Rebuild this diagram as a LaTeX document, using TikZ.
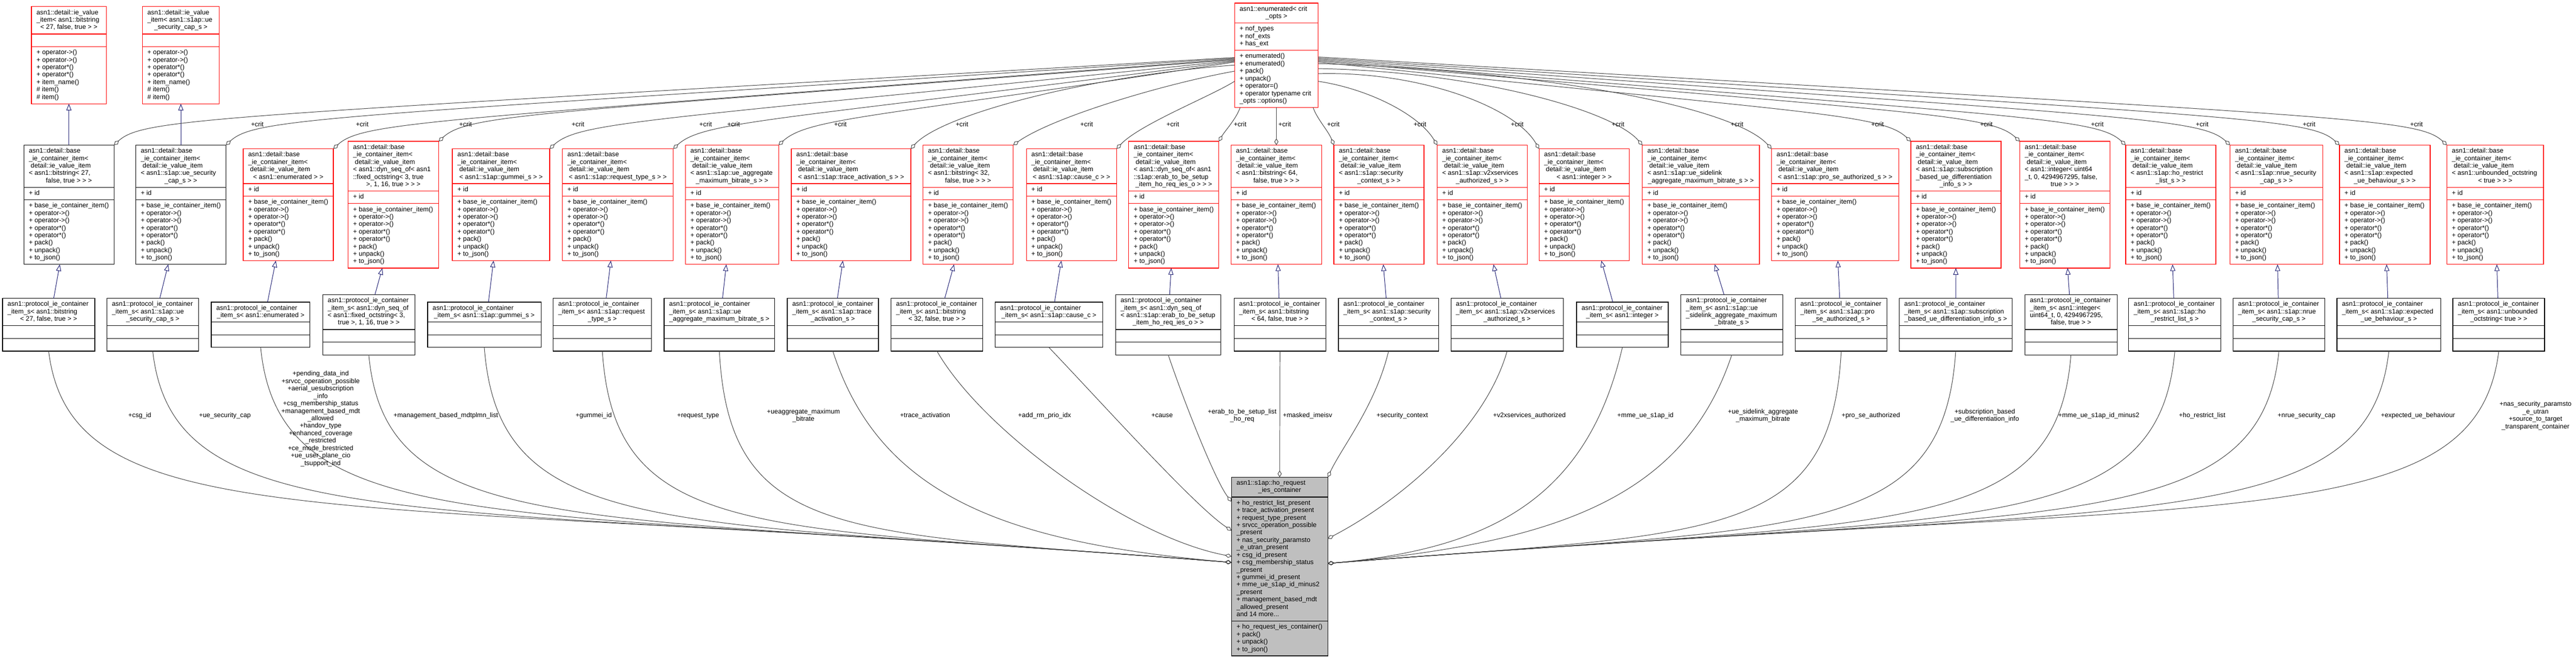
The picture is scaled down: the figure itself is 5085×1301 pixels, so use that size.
\documentclass[tikz,border=0pt]{standalone}
\usepackage{fontspec}
\setmainfont{Liberation Sans}
\usetikzlibrary{arrows.meta,calc}
\definecolor{midblue}{HTML}{191970}
\definecolor{edgegray}{HTML}{404040}
\definecolor{boxred}{HTML}{FF0000}
\definecolor{mainfill}{HTML}{BFBFBF}
\newcommand\Ln[1]{\hbox{\vrule height 10.5pt depth 4.17pt width 0pt\relax #1}}
\newcommand\Lc[1]{\hbox to\hsize{\vrule height 10.5pt depth 4.17pt width 0pt\hfil #1\hfil}}
\newcommand\Sec[2]{\hbox to #1{\vtop{\hsize=#1\relax #2}\hss}}
\newcommand\Bhd{\Ln{asn1::detail::base}\Ln{\_ie\_container\_item<}\Ln{\kern3.7pt detail::ie\_value\_item}}
\newcommand\Bmeth{\Ln{+ base\_ie\_container\_item()}\Ln{+ operator->()}\Ln{+ operator->()}\Ln{+ operator*()}\Ln{+ operator*()}\Ln{+ pack()}\Ln{+ unpack()}\Ln{+ to\_json()}}
\newcommand\Ameth{\Ln{+ operator->()}\Ln{+ operator->()}\Ln{+ operator*()}\Ln{+ operator*()}\Ln{+ item\_name()}\Ln{\# item()}\Ln{\# item()}}
\tikzset{
  sec/.style={draw, line width=1.3pt, inner xsep=10pt, inner ysep=5pt, outer sep=0pt, anchor=north west, font=\fontsize{13}{14.67}\selectfont, fill=white},
  redbox/.style={sec, draw=boxred},
  blkbox/.style={sec, draw=black},
  inh/.style={draw=midblue, line width=1pt, -{Triangle[open,length=13pt,width=10pt]}},
  agg/.style={draw=edgegray, line width=1pt, -{Diamond[open,length=13pt,width=8pt]}},
  lbl/.style={font=\fontsize{13}{14.67}\selectfont, inner sep=0pt, align=center},
}
\newcommand\Bbox[6]{%
  \pgfmathsetmacro\bt{404-(14.67*#4+162.4)/2}%
  \pgfmathsetmacro\tw{#3-20}%
  \node[#5] (#1) at (#2,\bt) {\Sec{\tw pt}{\Bhd#6}};
  \node[#5] (#1-a) at (#1.south west) {\Sec{\tw pt}{\Ln{+ id}}};
  \node[#5] (#1-m) at (#1-a.south west) {\Sec{\tw pt}{\Bmeth}};
}
\newcommand\Cbox[5]{%
  \pgfmathsetmacro\ct{640.5-(14.67*#4+60)/2}%
  \pgfmathsetmacro\tw{#3-20}%
  \node[blkbox] (#1) at (#2,\ct) {\Sec{\tw pt}{\Ln{asn1::protocol\_ie\_container}#5}};
  \node[blkbox, minimum width=#3, minimum height=25] (#1-a) at (#1.south west) {};
  \node[blkbox, minimum width=#3, minimum height=25] (#1-m) at (#1-a.south west) {};
}
\begin{document}
\begin{tikzpicture}[x=1pt,y=-1pt]
\fill[white] (0,0) rectangle (5085,1301);
\useasboundingbox (0,0) rectangle (5085,1301);

% ---- top row
\node[redbox] (a1) at (62,13) {\Sec{128pt}{\Ln{asn1::detail::ie\_value}\Ln{\_item< asn1::bitstring}\Lc{< 27, false, true > >}}};
\node[redbox, minimum width=148, minimum height=25] (a1-a) at (a1.south west) {};
\node[redbox] (a1-m) at (a1-a.south west) {\Sec{128pt}{\Ameth}};
\node[redbox] (a2) at (281,13) {\Sec{132pt}{\Ln{asn1::detail::ie\_value}\Ln{\_item< asn1::s1ap::ue}\Lc{\_security\_cap\_s >}}};
\node[redbox, minimum width=152, minimum height=25] (a2-a) at (a2.south west) {};
\node[redbox] (a2-m) at (a2-a.south west) {\Sec{132pt}{\Ameth}};

\node[redbox] (E) at (2437,6) {\Sec{145pt}{\Ln{asn1::enumerated< crit}\Lc{\_opts >}}};
\node[redbox] (E-a) at (E.south west) {\Sec{145pt}{\Ln{+ nof\_types}\Ln{+ nof\_exts}\Ln{+ has\_ext}}};
\node[redbox] (E-m) at (E-a.south west) {\Sec{145pt}{\Ln{+ enumerated()}\Ln{+ enumerated()}\Ln{+ pack()}\Ln{+ unpack()}\Ln{+ operator=()}\Ln{+ operator typename crit}\Ln{\_opts ::options()}}};

% ---- base_ie_container_item row
\Bbox{b1}{47}{178}{5}{blkbox}{\Ln{< asn1::bitstring< 27,}\Lc{false, true > > >}}
\Bbox{b2}{268}{178}{5}{blkbox}{\Ln{< asn1::s1ap::ue\_security}\Lc{\_cap\_s > >}}
\Bbox{b3}{480}{178}{4}{redbox}{\Lc{< asn1::enumerated > >}}
\Bbox{b4}{687}{179}{6}{redbox}{\Ln{< asn1::dyn\_seq\_of< asn1}\Ln{::fixed\_octstring< 3, true}\Lc{>, 1, 16, true > > >}}
\Bbox{b5}{893}{192}{4}{redbox}{\Lc{< asn1::s1ap::gummei\_s > >}}
\Bbox{b6}{1110}{219}{4}{redbox}{\Lc{< asn1::s1ap::request\_type\_s > >}}
\Bbox{b7}{1353}{184}{5}{redbox}{\Ln{< asn1::s1ap::ue\_aggregate}\Lc{\_maximum\_bitrate\_s > >}}
\Bbox{b8}{1562}{236}{4}{redbox}{\Lc{< asn1::s1ap::trace\_activation\_s > >}}
\Bbox{b9}{1822}{178}{5}{redbox}{\Ln{< asn1::bitstring< 32,}\Lc{false, true > > >}}
\Bbox{b10}{2026}{178}{4}{redbox}{\Lc{< asn1::s1ap::cause\_c > >}}
\Bbox{b11}{2228}{178}{6}{redbox}{\Ln{< asn1::dyn\_seq\_of< asn1}\Ln{::s1ap::erab\_to\_be\_setup}\Lc{\_item\_ho\_req\_ies\_o > > >}}
\Bbox{b12}{2430}{179}{5}{redbox}{\Ln{< asn1::bitstring< 64,}\Lc{false, true > > >}}
\Bbox{b13}{2633}{178}{5}{redbox}{\Ln{< asn1::s1ap::security}\Lc{\_context\_s > >}}
\Bbox{b14}{2837}{178}{5}{redbox}{\Ln{< asn1::s1ap::v2xservices}\Lc{\_authorized\_s > >}}
\Bbox{b15}{3038}{178}{4}{redbox}{\Lc{< asn1::integer > >}}
\Bbox{b16}{3242}{231}{5}{redbox}{\Ln{< asn1::s1ap::ue\_sidelink}\Lc{\_aggregate\_maximum\_bitrate\_s > >}}
\Bbox{b17}{3497}{251}{4}{redbox}{\Lc{< asn1::s1ap::pro\_se\_authorized\_s > >}}
\Bbox{b18}{3772}{178}{6}{redbox}{\Ln{< asn1::s1ap::subscription}\Ln{\_based\_ue\_differentiation}\Lc{\_info\_s > >}}
\Bbox{b19}{3987}{178}{6}{redbox}{\Ln{< asn1::integer< uint64}\Ln{\_t, 0, 4294967295, false,}\Lc{true > > >}}
\Bbox{b20}{4196}{178}{5}{redbox}{\Ln{< asn1::s1ap::ho\_restrict}\Lc{\_list\_s > >}}
\Bbox{b21}{4402}{183}{5}{redbox}{\Ln{< asn1::s1ap::nrue\_security}\Lc{\_cap\_s > >}}
\Bbox{b22}{4618}{179}{5}{redbox}{\Ln{< asn1::s1ap::expected}\Lc{\_ue\_behaviour\_s > >}}
\Bbox{b23}{4830}{191}{5}{redbox}{\Ln{< asn1::unbounded\_octstring}\Lc{< true > > >}}

% ---- protocol_ie_container_item_s row
\Cbox{c1}{5}{182}{3}{\Ln{\_item\_s< asn1::bitstring}\Lc{< 27, false, true > >}}
\Cbox{c2}{211}{181}{3}{\Ln{\_item\_s< asn1::s1ap::ue}\Lc{\_security\_cap\_s >}}
\Cbox{c3}{417}{195}{2}{\Lc{\_item\_s< asn1::enumerated >}}
\Cbox{c4}{637}{182}{4}{\Ln{\_item\_s< asn1::dyn\_seq\_of}\Ln{< asn1::fixed\_octstring< 3,}\Lc{true >, 1, 16, true > >}}
\Cbox{c5}{844}{224}{2}{\Lc{\_item\_s< asn1::s1ap::gummei\_s >}}
\Cbox{c6}{1092}{194}{3}{\Ln{\_item\_s< asn1::s1ap::request}\Lc{\_type\_s >}}
\Cbox{c7}{1311}{218}{3}{\Ln{\_item\_s< asn1::s1ap::ue}\Lc{\_aggregate\_maximum\_bitrate\_s >}}
\Cbox{c8}{1554}{180}{3}{\Ln{\_item\_s< asn1::s1ap::trace}\Lc{\_activation\_s >}}
\Cbox{c9}{1759}{181}{3}{\Ln{\_item\_s< asn1::bitstring}\Lc{< 32, false, true > >}}
\Cbox{c10}{1964}{213}{2}{\Lc{\_item\_s< asn1::s1ap::cause\_c >}}
\Cbox{c11}{2202}{208}{4}{\Ln{\_item\_s< asn1::dyn\_seq\_of}\Ln{< asn1::s1ap::erab\_to\_be\_setup}\Lc{\_item\_ho\_req\_ies\_o > >}}
\Cbox{c12}{2436}{181}{3}{\Ln{\_item\_s< asn1::bitstring}\Lc{< 64, false, true > >}}
\Cbox{c13}{2642}{198}{3}{\Ln{\_item\_s< asn1::s1ap::security}\Lc{\_context\_s >}}
\Cbox{c14}{2864}{222}{3}{\Ln{\_item\_s< asn1::s1ap::v2xservices}\Lc{\_authorized\_s >}}
\Cbox{c15}{3112}{181}{2}{\Lc{\_item\_s< asn1::integer >}}
\Cbox{c16}{3318}{201}{4}{\Ln{\_item\_s< asn1::s1ap::ue}\Ln{\_sidelink\_aggregate\_maximum}\Lc{\_bitrate\_s >}}
\Cbox{c17}{3544}{181}{3}{\Ln{\_item\_s< asn1::s1ap::pro}\Lc{\_se\_authorized\_s >}}
\Cbox{c18}{3749}{223}{3}{\Ln{\_item\_s< asn1::s1ap::subscription}\Lc{\_based\_ue\_differentiation\_info\_s >}}
\Cbox{c19}{3997}{182}{4}{\Ln{\_item\_s< asn1::integer<}\Ln{uint64\_t, 0, 4294967295,}\Lc{false, true > >}}
\Cbox{c20}{4202}{182}{3}{\Ln{\_item\_s< asn1::s1ap::ho}\Lc{\_restrict\_list\_s >}}
\Cbox{c21}{4408}{181}{3}{\Ln{\_item\_s< asn1::s1ap::nrue}\Lc{\_security\_cap\_s >}}
\Cbox{c22}{4613}{205}{3}{\Ln{\_item\_s< asn1::s1ap::expected}\Lc{\_ue\_behaviour\_s >}}
\Cbox{c23}{4842}{181}{3}{\Ln{\_item\_s< asn1::unbounded}\Lc{\_octstring< true > >}}

% ---- main class
\node[blkbox, fill=mainfill] (D) at (2431,941) {\Sec{170pt}{\Ln{asn1::s1ap::ho\_request}\Lc{\_ies\_container}}};
\node[blkbox, fill=mainfill] (D-a) at (D.south west) {\Sec{170pt}{\Ln{+ ho\_restrict\_list\_present}\Ln{+ trace\_activation\_present}\Ln{+ request\_type\_present}\Ln{+ srvcc\_operation\_possible}\Ln{\_present}\Ln{+ nas\_security\_paramsto}\Ln{\_e\_utran\_present}\Ln{+ csg\_id\_present}\Ln{+ csg\_membership\_status}\Ln{\_present}\Ln{+ gummei\_id\_present}\Ln{+ mme\_ue\_s1ap\_id\_minus2}\Ln{\_present}\Ln{+ management\_based\_mdt}\Ln{\_allowed\_present}\Ln{and 14 more...}}};
\node[blkbox, fill=mainfill] (D-m) at (D-a.south west) {\Sec{170pt}{\Ln{+ ho\_request\_ies\_container()}\Ln{+ pack()}\Ln{+ unpack()}\Ln{+ to\_json()}}};

\coordinate (dl) at ([yshift=-129pt]D-a.north west);
\coordinate (dl9) at ([yshift=-117pt]D-a.north west);
\coordinate (dl10) at ([yshift=-66pt]D-a.north west);
\coordinate (dl11) at ([yshift=-9pt]D-a.north west);
\coordinate (dr) at ([yshift=-131pt]D-a.north east);
\coordinate (dr14) at ([yshift=-82pt]D-a.north east);

% ---- inheritance
\draw[inh] (b1.north) -- (a1-m.south);
\draw[inh] (b2.north) -- (a2-m.south);
\foreach \i in {1,...,23}{
  \draw[inh] let \p1=(c\i.north), \p2=(b\i-m.south) in ({\x1+0.25*(\x2-\x1)},\y1) -- ({\x1+0.55*(\x2-\x1)},\y2);
}

% ---- +crit aggregation from enumerated
\foreach \i/\k in {1/14,2/15.5,3/17,4/18.5,5/20,6/21.5,7/23}{
  \draw[agg] let \p2=(b\i.north east) in ([yshift=-\k pt]E-m.north west) .. controls ({\x2+200pt},{\y2+55pt}) and ({\x2+60pt},{\y2+55pt}) .. (b\i.north east);
}
\draw[agg] ([yshift=-29pt]E-m.north west) .. controls (2150,150) and (1860,225) .. (b8.north east);
\draw[agg] ([yshift=-41pt]E-m.north west) .. controls (2300,165) and (2080,230) .. (b9.north east);
\draw[agg] ([yshift=-61pt]E-m.north west) .. controls (2390,190) and (2250,245) .. (b10.north east);
\draw[agg] ([xshift=11pt]E-m.south west) .. controls (2440,235) and (2418,258) .. (b11.north east);
\draw[agg] (E-m.south) -- (b12.north);
\draw[agg] ([xshift=-10pt]E-m.south east) .. controls (2600,235) and (2622,258) .. (b13.north west);
\draw[agg] ([yshift=-61pt]E-m.north east) .. controls (2700,175) and (2800,225) .. (b14.north west);
\draw[agg] ([yshift=-46pt]E-m.north east) .. controls (2800,140) and (2990,210) .. (b15.north west);
\draw[agg] ([yshift=-36pt]E-m.north east) .. controls (2900,140) and (3180,215) .. (b16.north west);
\draw[agg] ([yshift=-26pt]E-m.north east) .. controls (3050,140) and (3420,210) .. (b17.north west);
\foreach \i/\k in {18/23,19/21,20/19,21/17,22/15,23/13}{
  \draw[agg] let \p2=(b\i.north west) in ([yshift=-\k pt]E-m.north east) .. controls ({\x2-200pt},{\y2+55pt}) and ({\x2-60pt},{\y2+55pt}) .. (b\i.north west);
}
\foreach \x in {508,715,919,1141,1393,1448,1659,1899,2145,2315,2448,2536,2632,2803,2995,3194,3429,3706,3921,4140,4347,4558,4770}
  \node[lbl] at (\x,245) {+crit};

% ---- members of the main class
\foreach \i/\xs in {1/96,2/301.5,3/514.5,4/728,5/956,6/1189,7/1420}{
  \pgfmathsetmacro\dx{2431-\xs}
  \draw[agg] (c\i-m.south) .. controls ({\xs+0.02*\dx},1070) and ({\xs+0.25*\dx},{1110-0.06*\dx}) .. (dl);
}
\draw[agg] (c8-m.south) .. controls (1738,985) and (1998,1071) .. (dl);
\draw[agg] (c9-m.south) .. controls (1940,850) and (2230,1060) .. (dl9);
\draw[agg] (c10-m.south) .. controls (2180,800) and (2360,1000) .. (dl10);
\draw[agg] (c11-m.south) .. controls (2340,800) and (2400,950) .. (dl11);
\draw[agg] (c12-m.south) -- (D.north);
\draw[agg] (c13-m.south) .. controls (2715,800) and (2650,880) .. (D.north east);
\draw[agg] (c14-m.south) .. controls (2930,850) and (2760,990) .. (dr14);
\draw[agg] (c15-m.south) .. controls (3133,984) and (2941,1083) .. (dr);
\draw[agg] (c16-m.south) .. controls (3323,988) and (3060,1072) .. (dr);
\foreach \i/\xs in {17/3634.5,18/3860.5,19/4088,20/4293,21/4498.5,22/4715.5,23/4932.5}{
  \pgfmathsetmacro\dx{\xs-2621}
  \draw[agg] (c\i-m.south) .. controls ({\xs-0.02*\dx},1072) and ({\xs-0.25*\dx},{1112-0.06*\dx}) .. (dr);
}

\node[lbl] at (276,820) {+csg\_id};
\node[lbl] at (444,820) {+ue\_security\_cap};
\node[lbl] at (633,826) {+pending\_data\_ind\\+srvcc\_operation\_possible\\+aerial\_uesubscription\\\_info\\+csg\_membership\_status\\+management\_based\_mdt\\\_allowed\\+handov\_type\\+enhanced\_coverage\\\_restricted\\+ce\_mode\_brestricted\\+ue\_user\_plane\_cio\\\_tsupport\_ind};
\node[lbl] at (880,820) {+management\_based\_mdtplmn\_list};
\node[lbl] at (1172,820) {+gummei\_id};
\node[lbl] at (1378,820) {+request\_type};
\node[lbl] at (1586,820) {+ueaggregate\_maximum\\\_bitrate};
\node[lbl] at (1826,820) {+trace\_activation};
\node[lbl] at (2062,820) {+add\_rm\_prio\_idx};
\node[lbl] at (2294,820) {+cause};
\node[lbl] at (2452,820) {+erab\_to\_be\_setup\_list\\\_ho\_req};
\node[lbl] at (2581,820) {+masked\_imeisv};
\node[lbl] at (2768,820) {+security\_context};
\node[lbl] at (3019,820) {+v2xservices\_authorized};
\node[lbl] at (3248,820) {+mme\_ue\_s1ap\_id};
\node[lbl] at (3480,820) {+ue\_sidelink\_aggregate\\\_maximum\_bitrate};
\node[lbl] at (3693,820) {+pro\_se\_authorized};
\node[lbl] at (3918,820) {+subscription\_based\\\_ue\_differentiation\_info};
\node[lbl] at (4143,820) {+mme\_ue\_s1ap\_id\_minus2};
\node[lbl] at (4347,820) {+ho\_restrict\_list};
\node[lbl] at (4553,820) {+nrue\_security\_cap};
\node[lbl] at (4773,820) {+expected\_ue\_behaviour};
\node[lbl] at (5005,820) {+nas\_security\_paramsto\\\_e\_utran\\+source\_to\_target\\\_transparent\_container};
\end{tikzpicture}
\end{document}
